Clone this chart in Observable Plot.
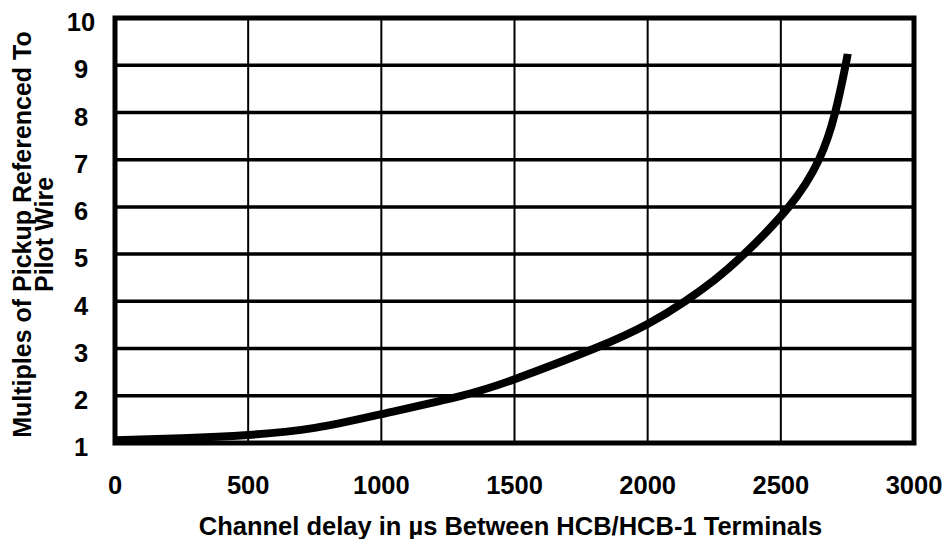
<!DOCTYPE html>
<html>
<head>
<meta charset="utf-8">
<script src="https://cdn.jsdelivr.net/npm/d3@7"></script>
<script src="https://cdn.jsdelivr.net/npm/@observablehq/plot@0.6"></script>
<style>
  html, body { margin: 0; padding: 0; background: #fff; }
  #chart svg { display: block; }
</style>
</head>
<body>
<div id="chart"></div>
<script>
// Curve
const delay = [0, 250, 500, 750, 1000, 1300, 1500, 1800, 2000, 2140, 2250, 2362, 2530, 2643, 2704, 2743, 2751];
const multiple = [1.06, 1.1, 1.17, 1.32, 1.61, 2.0, 2.35, 3.0, 3.52, 4.0, 4.45, 5.0, 6.0, 7.0, 8.0, 9.0, 9.24];

const xTicks = [0, 500, 1000, 1500, 2000, 2500, 3000];
const yTicks = [1, 2, 3, 4, 5, 6, 7, 8, 9, 10];
const xGrid = [500, 1000, 1500, 2000, 2500];
const yGrid = [2, 3, 4, 5, 6, 7, 8, 9];

const xTitle = "Channel delay in \u00b5s Between HCB/HCB-1 Terminals";
const yTitle1 = "Multiples of Pickup Referenced To";
const yTitle2 = "Pilot Wire";

const curve = delay.map((d, i) => ({delay: d, multiple: multiple[i]}));
const font = "Liberation Sans, Arial, sans-serif";

const chart = Plot.plot({
  width: 946,
  height: 539,
  marginLeft: 114.5,
  marginRight: 32.5,
  marginTop: 17.5,
  marginBottom: 96.5,
  style: {fontFamily: font, background: "#fff", color: "#000"},
  x: {domain: [0, 3000], ticks: xTicks},
  y: {domain: [1, 10], ticks: yTicks},
  marks: [
    Plot.ruleX(xGrid, {stroke: "#000", strokeWidth: 2}),
    Plot.ruleY(yGrid, {stroke: "#000", strokeWidth: 3.5}),
    Plot.line(curve, {x: "delay", y: "multiple", curve: "natural", stroke: "#000", strokeWidth: 8, strokeLinecap: "butt", strokeLinejoin: "round"}),
    Plot.frame({stroke: "#000", strokeWidth: 5}),
    Plot.axisX({ticks: xTicks, tickSize: 0, tickPadding: 33, fontSize: 25.5, fontWeight: "bold", label: null, tickFormat: d => String(d)}),
    Plot.axisY({ticks: yTicks, tickSize: 0, tickPadding: 34, textAnchor: "middle", fontSize: 25.5, fontWeight: "bold", label: null, dy: 5, tickFormat: d => String(d)}),
    Plot.text([xTitle], {frameAnchor: "bottom", text: d => d, dy: 92, dx: -4, textAnchor: "middle", lineAnchor: "bottom", fontSize: 25.5, fontWeight: "bold"}),
    Plot.text([yTitle1], {frameAnchor: "left", text: d => d, rotate: -90, dx: -84.5, dy: 4, textAnchor: "middle", lineAnchor: "bottom", fontSize: 25, fontWeight: "bold"}),
    Plot.text([yTitle2], {frameAnchor: "left", text: d => d, rotate: -90, dx: -62.5, dy: 4, textAnchor: "middle", lineAnchor: "bottom", fontSize: 25, fontWeight: "bold"})
  ]
});
document.getElementById("chart").appendChild(chart);
</script>
</body>
</html>
